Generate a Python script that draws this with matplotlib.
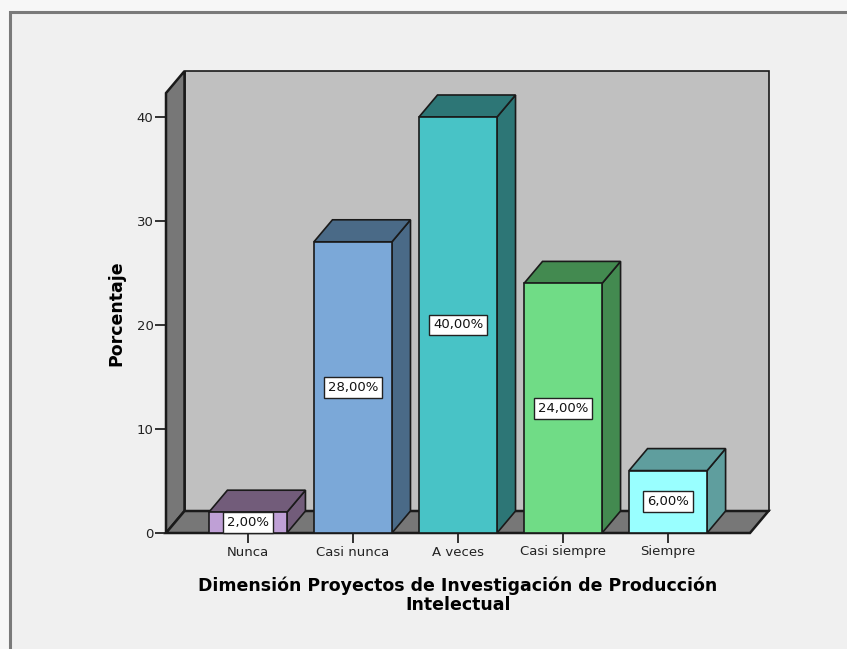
import matplotlib
matplotlib.use("Agg")
import matplotlib.pyplot as plt
from matplotlib.patches import Polygon, Rectangle

categories = ["Nunca", "Casi nunca", "A veces", "Casi siempre", "Siempre"]
values = [2.0, 28.0, 40.0, 24.0, 6.0]
labels = ["2,00%", "28,00%", "40,00%", "24,00%", "6,00%"]
front_colors = ["#BFA0D6", "#7BA8D8", "#48C3C6", "#70DC86", "#99FFFF"]
dark_colors = ["#725C7A", "#4A6A87", "#2D7676", "#438A50", "#5F9E9E"]
yticks = [0, 10, 20, 30, 40]

W, H = 847, 649
fig = plt.figure(figsize=(W / 100, H / 100), dpi=100)
fig.patch.set_facecolor("#f7f7f7")
# outer frame
frame = Rectangle((10 / W, -0.05), 1.1, (H - 12) / H + 0.05,
                  transform=fig.transFigure, facecolor="#f0f0f0",
                  edgecolor="#7a7a7a", linewidth=2.2, zorder=-10)
fig.patches.append(frame)

# axes placed on the front plane
x_left_px, x_right_px, y0_px = 166, 750, 533
px_per_unit_y = 10.4
ymax = 44.5
ax = fig.add_axes([x_left_px / W, (H - y0_px) / H, (x_right_px - x_left_px) / W,
                   ymax * px_per_unit_y / H])
ax.set_zorder(5)
ax.set_facecolor("none")
x0, x1 = -0.78, 4.78
ax.set_xlim(x0, x1)
ax.set_ylim(0, ymax)
for s in ax.spines.values():
    s.set_visible(False)

dx = 18.5 / 105.0
dy = 22.0 / px_per_unit_y
wall_h = 42.3
edge = "#1a1a1a"
lw = 1.2

# walls and floor
ax.add_patch(Polygon([(x0 + dx, dy), (x1 + dx, dy), (x1 + dx, wall_h + dy), (x0 + dx, wall_h + dy)],
                     closed=True, facecolor="#c0c0c0", edgecolor=edge, lw=lw, zorder=1, clip_on=False))
ax.add_patch(Polygon([(x0, 0), (x0, wall_h), (x0 + dx, wall_h + dy), (x0 + dx, dy)],
                     closed=True, facecolor="#777777", edgecolor=edge, lw=lw * 1.5, zorder=2, clip_on=False))
ax.add_patch(Polygon([(x0, 0), (x1, 0), (x1 + dx, dy), (x0 + dx, dy)],
                     closed=True, facecolor="#777777", edgecolor=edge, lw=lw * 1.5, zorder=2, clip_on=False))

bw = 78 / 105.0
for i, (v, fc, dc, lab) in enumerate(zip(values, front_colors, dark_colors, labels)):
    l, r = i - bw / 2, i + bw / 2
    ax.add_patch(Polygon([(r, 0), (r + dx, dy), (r + dx, v + dy), (r, v)], closed=True,
                         facecolor=dc, edgecolor=edge, lw=lw, zorder=3, clip_on=False))
    ax.add_patch(Polygon([(l, v), (r, v), (r + dx, v + dy), (l + dx, v + dy)], closed=True,
                         facecolor=dc, edgecolor=edge, lw=lw, zorder=3, clip_on=False))
    ax.add_patch(Rectangle((l, 0), bw, v, facecolor=fc, edgecolor=edge, lw=lw, zorder=4, clip_on=False))
    ax.text(i, v / 2, lab, ha="center", va="center", fontsize=9.5, color="#111111", zorder=6,
            bbox=dict(boxstyle="square,pad=0.3", facecolor="white", edgecolor="#222222", lw=1.0))

ax.set_xticks(range(len(categories)))
ax.set_xticklabels(categories, fontsize=9.5, color="#222222")
ax.set_yticks(yticks)
ax.set_yticklabels([str(t) for t in yticks], fontsize=9.5, color="#222222")
ax.tick_params(axis="x", length=7, width=1.3, color="#222222", pad=2)
ax.tick_params(axis="y", length=8, width=1.3, color="#222222", pad=1)

ax.set_ylabel("Porcentaje", fontsize=12.5, fontweight="bold", labelpad=8)
ax.yaxis.label.set_y((wall_h / 2) / ymax)
ax.set_xlabel("Dimensión Proyectos de Investigación de Producción\nIntelectual",
              fontsize=12.5, fontweight="bold", labelpad=13, linespacing=1.05)

fig.savefig("out.png", dpi=100, facecolor=fig.get_facecolor())
